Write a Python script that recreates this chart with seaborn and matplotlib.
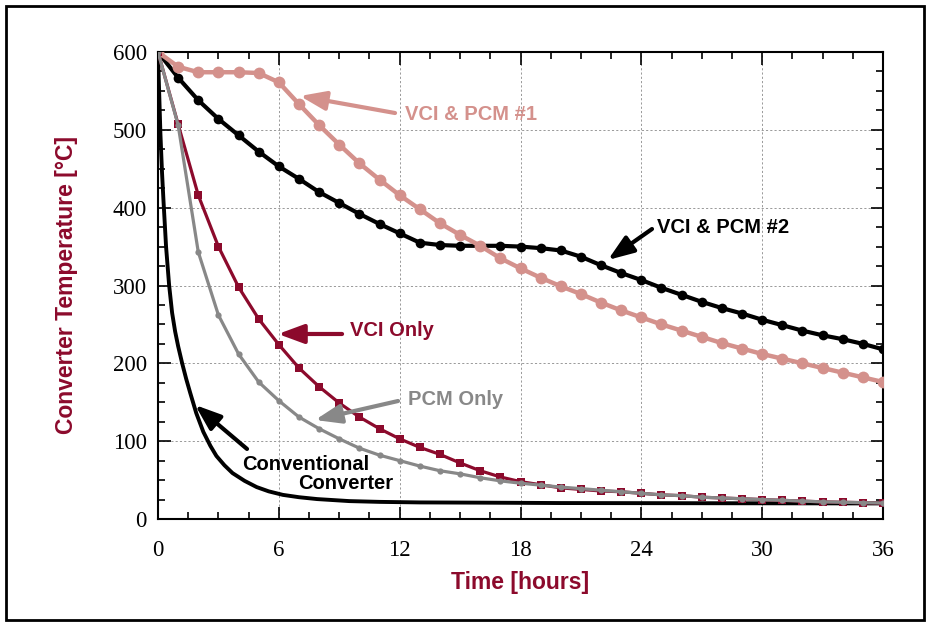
import numpy as np
import pandas as pd
import matplotlib
matplotlib.use("Agg")
import matplotlib.pyplot as plt
from matplotlib.patches import Rectangle
from matplotlib.ticker import MultipleLocator
import seaborn as sns

# ---------------- data ----------------
hours = list(range(0, 37))
vci_pcm1 = [600, 581, 574, 574, 574, 573, 561, 533, 506, 481, 457, 436, 416, 398, 380, 365,
            351, 335, 322, 310, 299, 289, 278, 268, 259, 250, 242, 234, 226, 219, 212, 206,
            200, 194, 188, 182, 176]
vci_pcm2 = [600, 567, 538, 514, 493, 472, 453, 437, 420, 406, 392, 379, 367, 355, 352, 351,
            351, 351, 350, 348, 345, 337, 326, 316, 307, 297, 288, 279, 271, 264, 256, 249,
            242, 236, 231, 225, 218]
vci_only = [600, 507, 416, 350, 298, 257, 224, 194, 170, 149, 131, 116, 103, 92, 83, 72,
            62, 54, 48, 44, 40, 38, 36, 35, 33, 31, 30, 28, 27, 26, 25, 24, 23, 22, 21.5, 21, 20.5]
pcm_only = [600, 506, 343, 262, 212, 176, 152, 131, 116, 103, 91, 82, 75, 68, 62, 58,
            53, 49, 46, 43.5, 41, 39, 37, 35, 33, 31, 30, 28, 27, 26, 25, 24, 23, 22, 21.5, 21, 20.5]
conv_hours = [0, 0.05, 0.12, 0.2, 0.27, 0.4, 0.55, 0.7, 0.85, 1.0, 1.2, 1.4, 1.6, 1.9, 2.25,
              2.6, 2.9, 3.3, 3.7, 4.3, 4.9, 5.5, 6.2, 7, 7.9, 9.5, 11, 13, 16, 20, 36]
conv_temp = [600, 555, 495, 445, 410, 350, 301, 265, 241, 222, 200, 180, 162, 136, 112,
             94, 81, 69, 59, 49, 41, 35.5, 31, 28, 25.6, 23, 22, 21.3, 21, 20.5, 20]

x_ticks = [0, 6, 12, 18, 24, 30, 36]
y_ticks = [0, 100, 200, 300, 400, 500, 600]

C_PINK = "#D4918C"
C_RED = "#8C0A2C"
C_GRAY = "#888888"
C_BLACK = "#000000"
C_LABEL = "#8C0A2C"

# ---------------- figure ----------------
sns.set_style("ticks")
plt.rcParams["font.family"] = ["Liberation Sans", "DejaVu Sans"]

fig = plt.figure(figsize=(9.31, 6.22), dpi=100)
ax = fig.add_axes([158 / 931, 1 - 519 / 622, (883 - 158) / 931, (519 - 52) / 622])

df_conv = pd.DataFrame({"t": conv_hours, "T": conv_temp})
df_main = pd.DataFrame({"t": hours, "p1": vci_pcm1, "p2": vci_pcm2, "v": vci_only, "p": pcm_only})

ax.grid(True, which="major", ls=(0, (2.2, 2.2)), lw=0.7, color="#999999")
ax.set_axisbelow(True)

sns.lineplot(data=df_conv, x="t", y="T", ax=ax, color=C_BLACK, lw=2.8, zorder=3)
sns.lineplot(data=df_main, x="t", y="p2", ax=ax, color=C_BLACK, lw=3.0, marker="o",
             markersize=7, markeredgewidth=0, zorder=4)
sns.lineplot(data=df_main, x="t", y="p1", ax=ax, color=C_PINK, lw=3.2, marker="o",
             markersize=8.5, markeredgewidth=0, zorder=5)
sns.lineplot(data=df_main, x="t", y="v", ax=ax, color=C_RED, lw=2.3, marker="s",
             markersize=6, markeredgewidth=0, zorder=6)
sns.lineplot(data=df_main, x="t", y="p", ax=ax, color=C_GRAY, lw=2.3, marker="o",
             markersize=4.5, markeredgewidth=0, zorder=7)

ax.set_xlim(0, 36)
ax.set_ylim(0, 600)
ax.set_xticks(x_ticks)
ax.set_yticks(y_ticks)
ax.xaxis.set_minor_locator(MultipleLocator(1.5))
ax.yaxis.set_minor_locator(MultipleLocator(25))
ax.tick_params(which="both", direction="in", top=True, right=True, color="black", width=1.2)
ax.tick_params(which="major", length=9, labelsize=16.5, labelcolor="black",
               labelfontfamily=["Liberation Serif", "DejaVu Serif"])
ax.tick_params(which="minor", length=5)
ax.tick_params(axis="x", which="major", pad=15)
ax.tick_params(axis="y", which="major", pad=8)
for sp in ax.spines.values():
    sp.set_visible(True)
    sp.set_linewidth(1.5)
    sp.set_color("black")

ax.set_xlabel("Time [hours]", fontsize=16.5, fontweight="bold", color=C_LABEL, labelpad=7)
ax.set_ylabel("Converter Temperature [°C]", fontsize=16.5, fontweight="bold", color=C_LABEL,
              labelpad=25)

# ---------------- annotations ----------------
def arrow(head, tail, color):
    ax.annotate("", xy=head, xytext=tail,
                arrowprops=dict(arrowstyle="-|>,head_length=0.65,head_width=0.24",
                                mutation_scale=24, lw=3, color=color,
                                shrinkA=0, shrinkB=0), zorder=9)

tfs = 14.5
ax.text(12.26, 520, "VCI & PCM #1", color=C_PINK, fontsize=tfs, fontweight="bold",
        ha="left", va="center", zorder=10)
arrow((7.05, 543.5), (11.77, 521.6), C_PINK)

ax.text(24.78, 374, "VCI & PCM #2", color=C_BLACK, fontsize=tfs, fontweight="bold",
        ha="left", va="center", zorder=10)
arrow((22.34, 332.8), (24.53, 372.6), C_BLACK)

ax.text(9.53, 241.6, "VCI Only", color=C_RED, fontsize=tfs, fontweight="bold",
        ha="left", va="center", zorder=10)
arrow((5.96, 237.7), (9.14, 237.7), C_RED)

ax.text(12.41, 154, "PCM Only", color=C_GRAY, fontsize=tfs, fontweight="bold",
        ha="left", va="center", zorder=10)
arrow((7.80, 127.2), (11.92, 151.6), C_GRAY)

ax.text(7.32, 69.4, "Conventional", color=C_BLACK, fontsize=tfs, fontweight="bold",
        ha="center", va="center", zorder=10)
ax.text(9.31, 45, "Converter", color=C_BLACK, fontsize=tfs, fontweight="bold",
        ha="center", va="center", zorder=10)
arrow((1.84, 146.5), (4.42, 90), C_BLACK)

# outer frame
fig.patches.append(Rectangle((6 / 931, 1 - 620 / 622), 918 / 931, 614 / 622,
                             transform=fig.transFigure, fill=False, lw=2, ec="black"))

fig.savefig("out.png", dpi=100)
